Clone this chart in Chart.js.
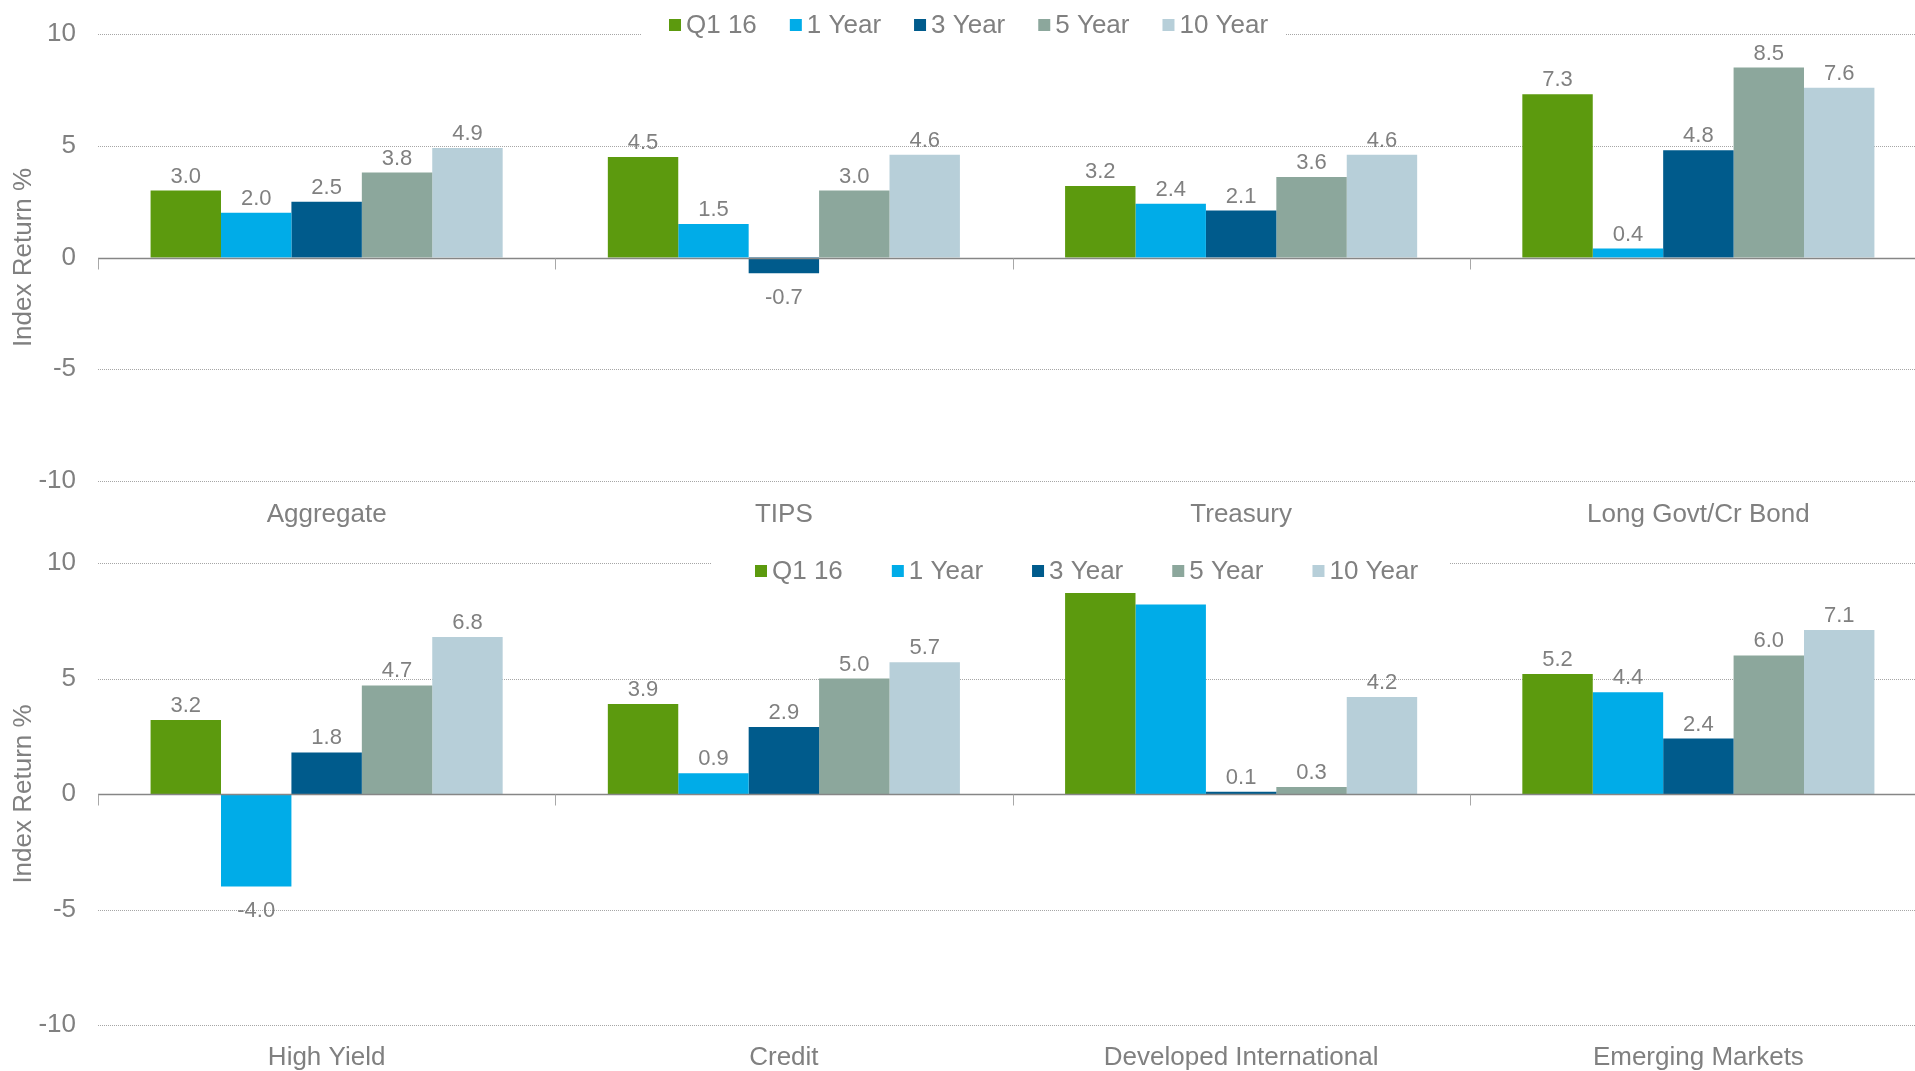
<!DOCTYPE html>
<html>
<head>
<meta charset="utf-8">
<script src="https://cdn.jsdelivr.net/npm/chart.js@4/dist/chart.umd.min.js"></script>
<style>
  html, body { margin: 0; padding: 0; background: #fff; overflow: hidden; }
  body { width: 1915px; height: 1071px; position: relative; }
  .box { position: absolute; left: 0; width: 1930px; }
  #topBox { top: 0; height: 535px; }
  #bottomBox { top: 535px; height: 536px; }
</style>
</head>
<body>
<div class="box" id="topBox"><canvas id="topChart"></canvas></div>
<div class="box" id="bottomBox"><canvas id="bottomChart"></canvas></div>
<script>
// Series names and colours
let seriesNames = ['Q1 16', '1 Year', '3 Year', '5 Year', '10 Year'];
let seriesColors = ['#5c9a0e', '#00ace8', '#005b8c', '#8ca79c', '#b7cfd9'];
let yTicks = [-10, -5, 0, 5, 10];

// Top panel
let topCategories = ['Aggregate', 'TIPS', 'Treasury', 'Long Govt/Cr Bond'];
let topQ1 = [3.0, 4.5, 3.2, 7.3];
let top1Y = [2.0, 1.5, 2.4, 0.4];
let top3Y = [2.5, -0.7, 2.1, 4.8];
let top5Y = [3.8, 3.0, 3.6, 8.5];
let top10Y = [4.9, 4.6, 4.6, 7.6];

// Bottom panel
let bottomCategories = ['High Yield', 'Credit', 'Developed International', 'Emerging Markets'];
let bottomQ1 = [3.2, 3.9, 8.7, 5.2];
let bottom1Y = [-4.0, 0.9, 8.2, 4.4];
let bottom3Y = [1.8, 2.9, 0.1, 2.4];
let bottom5Y = [4.7, 5.0, 0.3, 6.0];
let bottom10Y = [6.8, 5.7, 4.2, 7.1];

let fontFamily = '"Liberation Sans", Arial, sans-serif';
let textColor = '#808080';

// Gridlines, zero axis, category ticks, value labels and the legend box
let panelPlugin = {
    id: 'panel',
    beforeDatasetsDraw(chart) {
        let ctx = chart.ctx;
        let area = chart.chartArea;
        let y = chart.scales.y;
        ctx.save();
        ctx.strokeStyle = '#a6a6a6';
        ctx.lineWidth = 1;
        ctx.setLineDash([1, 1]);
        yTicks.forEach(function(v) {
            if (v === 0) return;
            let py = Math.round(y.getPixelForValue(v)) + 0.5;
            ctx.beginPath();
            ctx.moveTo(area.left, py);
            ctx.lineTo(area.right, py);
            ctx.stroke();
        });
        ctx.restore();
    },
    afterDatasetsDraw(chart) {
        let ctx = chart.ctx;
        let area = chart.chartArea;
        let y = chart.scales.y;
        let lg = chart.options.plugins.panel;
        let y0 = Math.round(y.getPixelForValue(0)) + 0.5;
        ctx.save();
        // zero line
        ctx.strokeStyle = '#868686';
        ctx.lineWidth = 1.5;
        ctx.beginPath();
        ctx.moveTo(area.left, y0);
        ctx.lineTo(area.right, y0);
        ctx.stroke();
        // category separators
        let n = chart.data.labels.length;
        let step = (area.right - area.left) / n;
        ctx.lineWidth = 1;
        ctx.strokeStyle = '#a8a8a8';
        for (let i = 0; i <= n; i++) {
            let px = Math.round(area.left + i * step) + 0.5;
            ctx.beginPath();
            ctx.moveTo(px, y0);
            ctx.lineTo(px, y0 + 11);
            ctx.stroke();
        }
        // value labels (ones that would sit under the legend are hidden)
        ctx.fillStyle = textColor;
        ctx.font = '22px ' + fontFamily;
        ctx.textAlign = 'center';
        ctx.textBaseline = 'middle';
        chart.data.datasets.forEach(function(ds, di) {
            chart.getDatasetMeta(di).data.forEach(function(bar, i) {
                let v = ds.data[i];
                let ly = v >= 0 ? bar.y - 14 : bar.y + 25;
                let underLegend = bar.x > lg.x0 && bar.x < lg.x1 && ly - 9 < lg.y + 22;
                if (underLegend) return;
                ctx.fillText(v.toFixed(1), bar.x, ly);
            });
        });
        ctx.restore();
    },
    afterDraw(chart) {
        let lg = chart.options.plugins.panel;
        let ctx = chart.ctx;
        ctx.save();
        ctx.fillStyle = '#ffffff';
        ctx.fillRect(lg.x0, lg.y - 20, lg.x1 - lg.x0, 40);
        ctx.font = '26px ' + fontFamily;
        ctx.textBaseline = 'middle';
        ctx.textAlign = 'left';
        let x = lg.start;
        seriesNames.forEach(function(name, i) {
            ctx.fillStyle = seriesColors[i];
            ctx.fillRect(x, lg.y - 6, 12, 12);
            ctx.fillStyle = textColor;
            ctx.fillText(name, x + 17, lg.y + 1);
            x += 17 + ctx.measureText(name).width + lg.gap;
        });
        ctx.restore();
    }
};

function makeChart(id, categories, values, opts) {
    let datasets = values.map(function(arr, i) {
        return {
            label: seriesNames[i],
            data: arr,
            backgroundColor: seriesColors[i],
            borderWidth: 0,
            categoryPercentage: 0.77,
            barPercentage: 1.0
        };
    });
    return new Chart(document.getElementById(id).getContext('2d'), {
        type: 'bar',
        data: { labels: categories, datasets: datasets },
        options: {
            responsive: true,
            maintainAspectRatio: false,
            animation: false,
            devicePixelRatio: 1,
            events: [],
            layout: { padding: { top: opts.padTop, right: 3, bottom: 0, left: 0 } },
            plugins: {
                legend: { display: false },
                tooltip: { enabled: false },
                panel: opts.legend
            },
            scales: {
                x: {
                    grid: { display: false, drawTicks: false },
                    border: { display: false },
                    ticks: {
                        color: textColor,
                        font: { family: fontFamily, size: 26 },
                        padding: opts.labelPad,
                        maxRotation: 0,
                        autoSkip: false
                    },
                    afterFit: function(s) { s.height = opts.axisHeight; }
                },
                y: {
                    min: -10,
                    max: 10,
                    grid: { display: false, drawTicks: false },
                    border: { display: false },
                    afterBuildTicks: function(s) {
                        s.ticks = yTicks.map(function(v) { return { value: v }; });
                    },
                    ticks: {
                        color: textColor,
                        font: { family: fontFamily, size: 26 },
                        padding: 22
                    },
                    title: {
                        display: true,
                        text: 'Index Return %',
                        color: textColor,
                        font: { family: fontFamily, size: 26 },
                        padding: { top: 8, bottom: 0 }
                    },
                    afterFit: function(s) {
                        s.width = 98;
                        // let layout padding alone decide where the plot starts
                        s.paddingTop = 0;
                        s.paddingBottom = 0;
                    }
                }
            }
        },
        plugins: [panelPlugin]
    });
}

let topChart = makeChart('topChart', topCategories,
    [topQ1, top1Y, top3Y, top5Y, top10Y],
    { padTop: 34, axisHeight: 54, labelPad: 18,
      legend: { x0: 641, x1: 1285, y: 25, start: 669, gap: 33 } });

let bottomChart = makeChart('bottomChart', bottomCategories,
    [bottomQ1, bottom1Y, bottom3Y, bottom5Y, bottom10Y],
    { padTop: 28, axisHeight: 46, labelPad: 17,
      legend: { x0: 711, x1: 1450, y: 36, start: 755, gap: 49 } });
</script>
</body>
</html>
